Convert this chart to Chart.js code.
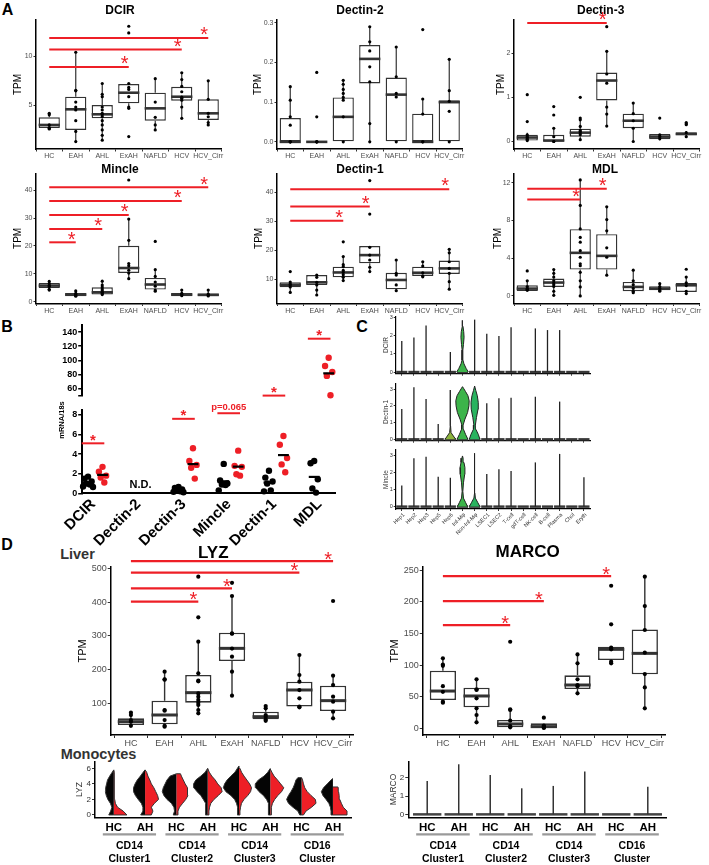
<!DOCTYPE html>
<html><head><meta charset="utf-8"><title>Figure</title>
<script src="https://cdn.jsdelivr.net/npm/chart.js@4.4.1/dist/chart.umd.min.js"></script>
<style>
html,body{margin:0;padding:0;background:#fff;}
#root{position:relative;width:709px;height:865px;overflow:hidden;background:#fff;font-family:"Liberation Sans",Arial,sans-serif;}
#root canvas{position:absolute;}
.lab{position:absolute;transform:translate(-50%,-50%);font-weight:bold;white-space:nowrap;line-height:1;color:#000;}
</style></head><body>
<div id="root">
<div class="lab" style="left:7.5px;top:9.5px;font-size:16px">A</div>
<div class="lab" style="left:7px;top:327px;font-size:16px">B</div>
<div class="lab" style="left:362px;top:327px;font-size:16px">C</div>
<div class="lab" style="left:7px;top:545px;font-size:16px">D</div>
<div class="lab" style="left:77.5px;top:554px;font-size:14.5px;color:#333">Liver</div>
<div class="lab" style="left:98.5px;top:754px;font-size:14.5px;color:#333">Monocytes</div>
</div>
<script>
const FONT='"Liberation Sans", Arial, sans-serif';
const RED='#ee1f26';

// ---------------- Panel A / D data ----------------
const groups=['HC','EAH','AHL','ExAH','NAFLD','HCV','HCV_Cirr'];
// box stats: [lower whisker, Q1, median, Q3, upper whisker]
const dcirBox=[[2.55,2.65,2.96,3.74,4.15],[1.26,2.45,4.56,5.85,10.44],[1.4,3.64,4.05,5.0,7.2],[4.66,5.17,6.26,7.14,7.2],[2.45,3.4,4.66,6.26,7.7],[3.64,5.44,5.85,6.87,8.3],[2.96,3.47,4.15,5.58,7.48]];
const dcirPts=[[4.15,4.0,2.96,2.7,2.6,2.55],[10.4,6.5,6.45,5.3,4.8,4.5,3.4,2.3,1.26],[7.2,6.1,5.85,4.8,4.5,4.15,4.0,3.8,3.4,2.96,2.45,1.9,1.4],[13.06,12.38,7.2,6.8,6.6,5.85,4.8,4.66,1.77],[7.7,5.3,3.74,2.96,2.45],[8.3,7.6,6.9,6.36,5.8,5.7,5.5,4.8,3.64],[7.48,5.58,4.15,3.8,3.2,2.96]];
const dcirSig=[[4,8.9],[6,10.68],[7,11.87]];

const dectin2Box=[[0,0,0,0.06,0.139],[0,0,0,0,0],[0,0,0.063,0.112,0.155],[0,0.147,0.209,0.244,0.29],[0,0,0.119,0.162,0.239],[0,0,0,0.071,0.108],[0,0,0.1,0.105,0.208]];
const dectin2Pts=[[0.139,0.105,0.063,0.042,0,0,0],[0.175,0.063,0,0,0,0],[0.155,0.145,0.132,0.122,0.112,0.105,0.063,0],[0.29,0.252,0.229,0.189,0.151,0.046,0],[0.239,0.164,0.122,0.113,0],[0.283,0.108,0.07,0,0],[0.208,0.129,0.102,0.077,0]];
const dectin2Sig=[];

const dectin3Box=[[0.02,0.02,0.09,0.15,0.2],[0,0,0.02,0.15,0.3],[0.04,0.11,0.2,0.29,0.53],[0.35,0.93,1.38,1.56,2.04],[0,0.3,0.47,0.63,0.87],[0.03,0.05,0.11,0.17,0.17],[0.09,0.14,0.17,0.21,0.24]];
const dectin3Pts=[[1.06,0.45,0.15,0.11,0.08,0.05,0.02],[0.79,0.6,0.3,0.11,0,0],[1.0,0.53,0.49,0.34,0.26,0.23,0.19,0.15,0.04],[2.6,2.04,1.53,1.32,0.78,0.62,0.35],[0.87,0.63,0.47,0.3,0],[0.53,0.15,0.11,0.06],[0.43,0.4,0.38,0.2,0.11]];
const dectin3Sig=[[4,2.68]];

const mincleBox=[[4.16,4.99,5.82,6.77,7.6],[2.0,2.0,2.6,3.2,4.0],[2.4,2.6,3.4,5.2,7.6],[8.3,10.33,12.1,20.07,29.6],[3.8,4.4,6.2,8.55,11.5],[2.0,2.0,2.6,3.2,4.2],[2.0,2.0,2.5,3.0,4.2]];
const minclePts=[[7.3,6.5,5.8,5.5,4.5,4.2],[3.9,3.0,2.6,2.3,2.0],[7.4,6.0,5.3,4.6,4.0,3.4,3.0,2.6],[43.6,29.6,22,13.7,12.9,11.3,10.3,8.3],[21.6,11.5,9.1,7.1,5.6,4.2,3.8],[4.2,3.0,2.6,2.2],[4.2,2.8,2.4,2.1]];
const mincleSig=[[2,21.3],[3,26.1],[4,31.1],[6,36.1],[7,41]];

const dectin1Box=[[5.4,7.15,8.0,8.9,9.2],[4.5,8.0,8.9,11.4,11.4],[9.5,10.6,12.3,14.3,17.8],[12.6,15.45,18.3,21.45,21.45],[6.0,6.46,9.7,12.2,16.6],[10.8,11.1,12.2,14.3,16.0],[6.46,11.8,13.7,16.4,20.3]];
const dectin1Pts=[[12.6,9.0,8.3,8.0,7.3,5.4],[11.4,10.6,8.9,8.0,6.2,4.5],[22.9,17.8,15.0,14.3,13.0,12.3,11.5,10.6,9.5],[44.1,32.5,21,18.3,16.6,14.1,12.6],[16.6,12,11.4,8.0,6.0],[16,14.5,12.2,11.1,10.8],[20.3,19.1,16,13.7,12,9.1,6.5]];
const dectin1Sig=[[3,30.2],[4,35.1],[7,41.1]];

const mdlBox=[[0.53,0.53,0.78,1.13,1.6],[0.07,0.96,1.42,1.84,2.8],[0,2.8,4.57,7.08,12.3],[2.2,2.8,4.25,6.55,9.45],[0.35,0.5,0.96,1.49,2.73],[0.5,0.6,0.78,1.03,1.3],[0.25,0.42,1.13,1.38,2.0]];
const mdlPts=[[2.65,1.6,1.0,0.8,0.7,0.6],[2.8,2.4,2.0,1.6,1.4,1.2,1.0,0.5,0.07],[12.3,9.6,7.1,6.2,5.7,4.8,4.1,3.4,3.2,2.5,1.6,0.96,0],[9.45,8.1,6.9,5.1,4.1,2.2],[2.73,1.6,1.2,0.8,0.5,0.35],[1.3,1.0,0.8,0.6,0.5],[2.83,2.0,1.4,1.1,0.5,0.25]];
const mdlSig=[[3,10.23],[4,11.36]];

const lyzBox=[[30.6,35.6,45.4,55.3,72],[30.6,37.5,65.2,107.7,193.6],[70,101.7,131.4,183.7,282.5],[122.5,225,262.7,309,417.8],[45.4,52.3,60.2,75,91.9],[90,90,139.3,164,243],[55.3,77,107.7,152,181.7]];
const lyzPts=[[72,65,50,45,33],[193.6,171,170,80,78,50,33,30.6],[475,354.6,282.5,188.6,167,165,129,119.5,110,101.7,95,80,70],[457,417.8,307,306,262,238,193.6,122.5],[91.9,85,65,60,52,48],[243,183.7,164,139,114.6,90,88],[403,181.7,154,119.5,104.7,75,55.3]];
const lyzSig=[[3,401],[4,440.5],[6,487],[7,521.5]];

const marcoBox=[[41,45.2,59.3,91.4,110.8],[10,33.6,51.5,64.6,77.7],[1,2.1,7.4,13.7,30.5],[1,1,3.2,8.4,8.4],[55.7,62.5,68.8,84,117],[103,108.2,125,129.2,129.2],[32,85.6,118.7,156.5,239.5]];
const marcoPts=[[110.8,101,99,67,58,42.5,41],[77.7,62,61,47.8,32,21.5,10],[137,30.5,29.4,12.6,4.2,2.1],[17.3,5,3,2,1],[117,103,77.7,68.8,67,55.7],[225.3,164.4,127.6,125,105.6,103],[239.5,193.3,155.5,119.7,86,65,32]];
const marcoSig=[[3,163.3],[4,201],[6,240.5]];

// ---------------- Panel B data ----------------
const bGenes=['DCIR','Dectin-2','Dectin-3','Mincle','Dectin-1','MDL'];
const bHC=[[1.7,1.5,1.2,1.0,0.9,0.7,0.65],[],[0.65,0.55,0.4,0.3,0.2,0.15,0.1],[3.0,1.3,1.0,0.9,0.85,0.3],[2.3,1.6,1.2,1.0,0.3,0.2],[3.3,3.06,1.43,0.5,0.07]];
const bAH=[[2.7,2.2,1.8,1.6,1.1],[],[4.6,3.3,2.9,2.6,1.5],[4.35,2.8,2.7,1.95,1.8],[5.85,4.95,3.6,2.95,2.15],[103.6,92,83.5,77.9,50.6]];
const bSig=[[1,5.1,'*'],[3,7.6,'*'],[4,8.17,'p=0.065'],[5,50,'*'],[6,130.6,'*']];
const bLowTicks=[0,2,4,6,8];
const bHighTicks=[50,60,80,100,120,140];
const bHighLabels=['','60','80','100','120','140'];

// ---------------- Panel C data ----------------
const cCells=['Hep1','Hep2','Hep3','Hep5','Hep6','Inf-M\u03c6','Non-Inf-M\u03c6','LSEC1','LSEC2','T-cell','gdT-cell','NK-cell','B-cell','Plasma','Chol','Eryth'];
const cDcirMax=[1.7,1.88,2.54,0,1.1,2.82,2.86,2.09,1.96,2.45,0,2.38,2.29,2.29,0,0];
const cDectin1Max=[1.81,3.1,2.4,0.91,2.94,3.14,3.18,2.15,2.45,2.48,0,2.54,0,2.25,0,0];
const cMincleMax=[1.24,2.84,2.94,1.76,1.7,2.98,3.14,1.92,2.2,2.1,0,2.6,0,3.1,0,1.73];
// violin profiles [expression, half-width]
const cDcirInf=[[0,0.48],[0.2,0.3],[0.45,0.12],[0.65,0.04],[1.2,0.03],[1.5,0.08],[1.9,0.13],[2.2,0.1],[2.5,0.04],[2.82,0]];
const cDectin1Hep6=[[0,0.44],[0.2,0.25],[0.4,0.06],[0.8,0.02],[2.94,0]];
const cDectin1Inf=[[0,0.45],[0.3,0.25],[0.6,0.08],[0.85,0.05],[1.2,0.2],[1.6,0.42],[2.0,0.53],[2.3,0.55],[2.6,0.45],[2.85,0.25],[3.05,0.08],[3.14,0]];
const cDectin1Non=[[0,0.44],[0.3,0.3],[0.6,0.1],[0.85,0.06],[1.3,0.15],[1.8,0.28],[2.2,0.3],[2.6,0.22],[2.9,0.1],[3.18,0]];
const cMincleInf=[[0,0.42],[0.25,0.25],[0.5,0.08],[0.9,0.03],[1.4,0.08],[1.9,0.18],[2.3,0.2],[2.6,0.12],[2.85,0.05],[2.98,0]];
const cMincleNon=[[0,0.44],[0.25,0.25],[0.5,0.06],[0.8,0.02],[3.14,0]];

// ---------------- Monocyte data ----------------
const monoGroups=['HC','AH','HC','AH','HC','AH','HC','AH'];
const monoClusters=[['CD14','Cluster1'],['CD14','Cluster2'],['CD14','Cluster3'],['CD16','Cluster']];
const lyzLevels=[0,0.5,1,1.5,2,2.5,3,3.5,4,4.5,5,5.5,6];
const lyzTopBlack=[5.8,5.8,5.3,6.0,6.3,6.0,4.8,4.7];
const lyzTopRed=[5.8,5.8,5.3,6.0,6.3,5.9,4.8,3.6];
const lyzTopWBlack=[0,0,0,0,0,0,0.12,0];
const lyzTopWRed=[0,0,0.13,0,0,0,0,0.16];
const lyzBlackW=[
 [.16,.10,.06,.11,.19,.24,.27,.26,.23,.2,.13,.05],
 [.14,.07,.07,.12,.22,.31,.37,.37,.32,.25,.15,.06],
 [.1,.06,.08,.16,.3,.4,.45,.42,.36,.3,.2],
 [.07,.06,.06,.08,.14,.22,.34,.44,.45,.38,.22,.08],
 [.05,.04,.05,.08,.14,.26,.42,.5,.46,.38,.26,.13,.05],
 [.06,.05,.06,.07,.12,.22,.36,.46,.48,.38,.2,.08],
 [.06,.12,.28,.42,.48,.42,.34,.27,.22,.18],
 [.06,.06,.08,.13,.22,.32,.37,.3,.18,.06]];
const lyzRedW=[
 [.42,.3,.12,.05,.03,.02,.02,.02,.02,.02,.01,.01],
 [.2,.25,.2,.3,.43,.4,.34,.28,.2,.15,.09,.05],
 [.04,.05,.1,.2,.3,.37,.37,.34,.28,.22,.16],
 [.04,.04,.06,.1,.2,.34,.46,.43,.32,.24,.13,.05],
 [.03,.03,.05,.08,.16,.28,.37,.4,.34,.25,.16,.08,.03],
 [.03,.03,.04,.07,.14,.24,.36,.43,.33,.23,.12,.05],
 [.06,.14,.32,.46,.44,.3,.18,.1,.06,.03],
 [.45,.45,.33,.27,.22,.2,.18,.17]];
const marcoMonoMax=[1.82,2.73,2.15,1.42,1.55,2.33,0,1.51];

// ---------------- helpers ----------------
const root=document.getElementById('root');
let pluginId=0;
function inkText(c,s,x,y,font,color,align){
  c.save();c.font=font;c.fillStyle=color;c.textAlign=align||'center';c.textBaseline='alphabetic';
  const m=c.measureText(s);
  c.fillText(s,x,y+(m.actualBoundingBoxAscent-m.actualBoundingBoxDescent)/2);c.restore();
}
function rotText(c,s,x,y,font,color,ang,align,base){
  c.save();c.translate(x,y);c.rotate(ang);c.font=font;c.fillStyle=color;
  c.textAlign=align||'center';c.textBaseline=base||'middle';c.fillText(s,0,0);c.restore();
}
function axis(o,isX,rect,area){
  const fixed=isX?rect[3]-area.b:area.l-rect[0];
  return {
    type:'linear',min:o.min,max:o.max,offset:false,display:o.display!==false,
    afterFit:s=>{ if(isX) s.height=fixed; else s.width=fixed; },
    afterBuildTicks:s=>{ s.ticks=(o.ticks||[]).map(v=>({value:v})); },
    ticks:{display:!!o.labels,autoSkip:false,maxRotation:0,minRotation:0,padding:o.pad!=null?o.pad:1,
      font:{family:FONT,size:o.fs||7,weight:o.fw||'normal'},color:o.fc||'#4d4d4d',
      callback:(v,i)=>o.labels?(o.labels[i]!=null?o.labels[i]:''):''},
    grid:{display:true,drawOnChartArea:false,drawTicks:(o.tl||0)>0,tickLength:o.tl||0,color:o.tc||'#333',lineWidth:o.tw||1},
    border:{display:o.border!==false,color:o.bc||'#000',width:o.bw||1.5}
  };
}
function makeChart(rect,area,xo,yo,datasets,plugin){
  const cv=document.createElement('canvas');
  const W=rect[2]-rect[0],H=rect[3]-rect[1];
  cv.width=W;cv.height=H;cv.style.left=rect[0]+'px';cv.style.top=rect[1]+'px';
  cv.style.width=W+'px';cv.style.height=H+'px';
  root.appendChild(cv);
  const xd=xo.display!==false;
  return new Chart(cv.getContext('2d'),{
    type:'scatter',data:{datasets},
    options:{responsive:false,maintainAspectRatio:false,animation:false,devicePixelRatio:1,events:[],
      layout:{padding:{top:area.t-rect[1],right:rect[2]-area.r,bottom:xd?0:rect[3]-area.b,left:0}},
      plugins:{legend:{display:false},tooltip:{enabled:false},title:{display:false}},
      scales:{x:axis(xo,true,rect,area),y:axis(yo,false,rect,area)}},
    plugins:plugin?[plugin]:[]
  });
}

// ---------------- box plot panels ----------------
const A_ST={bw:1.4,boxW:0.8,pr:1.6,mw:2.6,ww:1.2,sw:2,sdx:-4,sdy:-6.7,star:'20px '+FONT,title:'bold 12px '+FONT,tpm:'10px '+FONT,xfs:7,yfs:7,tl:2.5};
const D_ST={bw:1.6,boxW:0.78,pr:2.1,mw:3,ww:1.4,sw:2.2,sdx:-5,sdy:-5.5,star:'20px '+FONT,title:'bold 17px '+FONT,tpm:'11px '+FONT,xfs:9,yfs:9,tl:3};
function boxChart(rect,area,st,xr,yr,yTicks,yLabels,box,pts,sig,title,titlePos,tpmX){
  const ds=[
    {type:'bar',data:box.map((b,i)=>({x:i+1,y:[b[1],b[3]]})),backgroundColor:'#fff',borderColor:'#333',borderWidth:st.bw,borderSkipped:false,barPercentage:st.boxW,categoryPercentage:1,order:3},
    {type:'scatter',data:pts.flatMap((a,i)=>a.map(v=>({x:i+1,y:v}))),pointRadius:st.pr,pointBackgroundColor:'#000',pointBorderWidth:0,clip:false,order:2}
  ];
  sig.forEach(s=>ds.push({type:'line',data:[{x:1,y:s[1]},{x:s[0],y:s[1]}],borderColor:RED,borderWidth:st.sw,pointRadius:0,fill:false,clip:false,order:1}));
  const plugin={id:'bx'+(pluginId++),
    beforeDatasetsDraw(ch){const x=ch.scales.x,y=ch.scales.y,c=ch.ctx;c.save();c.strokeStyle='#333';c.lineWidth=st.ww;
      box.forEach((b,i)=>{const px=x.getPixelForValue(i+1);c.beginPath();
        c.moveTo(px,y.getPixelForValue(b[4]));c.lineTo(px,y.getPixelForValue(b[3]));
        c.moveTo(px,y.getPixelForValue(b[1]));c.lineTo(px,y.getPixelForValue(b[0]));c.stroke();});c.restore();},
    afterDatasetDraw(ch,args){if(args.index!==0)return;const x=ch.scales.x,y=ch.scales.y,c=ch.ctx,meta=ch.getDatasetMeta(0);
      c.save();c.strokeStyle='#333';c.lineWidth=st.mw;
      box.forEach((b,i)=>{const px=x.getPixelForValue(i+1),w=meta.data[i].width/2,py=y.getPixelForValue(b[2]);
        c.beginPath();c.moveTo(px-w,py);c.lineTo(px+w,py);c.stroke();});c.restore();},
    afterDraw(ch){const x=ch.scales.x,y=ch.scales.y,c=ch.ctx,ca=ch.chartArea;
      inkText(c,title,titlePos[0]-rect[0],titlePos[1]-rect[1],st.title,'#000');
      rotText(c,'TPM',tpmX-rect[0],(ca.top+ca.bottom)/2,st.tpm,'#000',-Math.PI/2);
      sig.forEach(s=>inkText(c,'*',x.getPixelForValue(s[0])+st.sdx,y.getPixelForValue(s[1])+st.sdy,st.star,RED));}
  };
  return makeChart(rect,area,
    {min:xr[0],max:xr[1],ticks:[1,2,3,4,5,6,7],labels:groups,fs:st.xfs,tl:st.tl,pad:0.5},
    {min:yr[0],max:yr[1],ticks:yTicks,labels:yLabels,fs:st.yfs,tl:st.tl,pad:1},ds,plugin);
}
const AX=[0.5,7.5];
boxChart([0,0,236,162],{l:36,t:20,r:221.5,b:149},A_ST,AX,[0.5,13.7],[5,10],['5','10'],dcirBox,dcirPts,dcirSig,'DCIR',[120,9],18.3);
boxChart([236,0,472,162],{l:277,t:20,r:462.5,b:149},A_ST,AX,[-0.018,0.307],[0,0.1,0.2,0.3],['0.0','0.1','0.2','0.3'],dectin2Box,dectin2Pts,dectin2Sig,'Dectin-2',[360,9],258);
boxChart([472,0,709,162],{l:514,t:20,r:699.5,b:149},A_ST,AX,[-0.17,2.75],[0,1,2],['0','1','2'],dectin3Box,dectin3Pts,dectin3Sig,'Dectin-3',[600.7,9],501.7);
boxChart([0,158,236,316],{l:36,t:173.3,r:221.5,b:303.5},A_ST,AX,[-0.6,46],[0,10,20,30,40],['0','10','20','30','40'],mincleBox,minclePts,mincleSig,'Mincle',[120,168.3],18.3);
boxChart([236,158,472,316],{l:277,t:173.3,r:462.5,b:303.5},A_ST,AX,[1.56,46.6],[10,20,30,40],['10','20','30','40'],dectin1Box,dectin1Pts,dectin1Sig,'Dectin-1',[360,168.3],259);
boxChart([472,158,709,316],{l:514,t:173.3,r:699.5,b:303.5},A_ST,AX,[-0.8,13],[0,4,8,12],['0','4','8','12'],mdlBox,mdlPts,mdlSig,'MDL',[605,168.3],498.3);
const DX=[0.4,7.6];
boxChart([55,530,372,752],{l:110.7,t:566.7,r:353.3,b:735},D_ST,DX,[5.9,504.7],[100,200,300,400,500],['100','200','300','400','500'],lyzBox,lyzPts,lyzSig,'LYZ',[213.3,551.7],83.3);
boxChart([372,530,709,752],{l:422.7,t:566.7,r:665,b:735},D_ST,DX,[-10,255.3],[0,50,100,150,200,250],['0','50','100','150','200','250'],marcoBox,marcoPts,marcoSig,'MARCO',[527.7,550.7],395);

// ---------------- Panel B ----------------
function bDatasets(lo,hi){
  const ds=[],jit=[0,-0.08,0.08,-0.04,0.04,-0.11,0.11],hc=[],ah=[];
  bHC.forEach((a,g)=>a.forEach((v,k)=>{if(v>=lo&&v<=hi)hc.push({x:g+1-0.16+jit[k%7],y:v});}));
  bAH.forEach((a,g)=>a.forEach((v,k)=>{if(v>=lo&&v<=hi)ah.push({x:g+1+0.16+jit[k%7],y:v});}));
  ds.push({type:'scatter',data:hc,pointRadius:3.2,pointBackgroundColor:'#000',pointBorderWidth:0,clip:false,order:3});
  ds.push({type:'scatter',data:ah,pointRadius:3.2,pointBackgroundColor:RED,pointBorderWidth:0,clip:false,order:3});
  [[bHC,-0.16],[bAH,0.16]].forEach(([arr,off])=>arr.forEach((a,g)=>{if(!a.length)return;
    const m=a.reduce((s,v)=>s+v,0)/a.length;
    if(m>=lo&&m<=hi)ds.push({type:'line',data:[{x:g+1+off-0.12,y:m},{x:g+1+off+0.12,y:m}],borderColor:'#000',borderWidth:2.2,pointRadius:0,fill:false,clip:false,order:2});}));
  bSig.forEach(s=>{if(s[1]>=lo&&s[1]<=hi)ds.push({type:'line',data:[{x:s[0]-0.3,y:s[1]},{x:s[0]+0.2,y:s[1]}],borderColor:RED,borderWidth:2,pointRadius:0,fill:false,clip:false,order:1});});
  return ds;
}
function bSigText(ch,lo,hi){const x=ch.scales.x,y=ch.scales.y,c=ch.ctx;
  bSig.forEach(s=>{if(s[1]<lo||s[1]>hi)return;const px=x.getPixelForValue(s[0]-0.05),py=y.getPixelForValue(s[1]);
    if(s[2]==='*')inkText(c,'*',px,py-5.7,'bold 15px '+FONT,RED);else inkText(c,s[2],px,py-5,'bold 9.5px '+FONT,RED);});}
const BX={min:0.7,max:6.3,ticks:[1,2,3,4,5,6],bw:2};
makeChart([40,315,345,410],{l:81.7,t:325,r:335,b:402.8},Object.assign({display:false},BX),
  {min:50,max:150,ticks:bHighTicks,labels:bHighLabels,fs:9,fw:'bold',fc:'#000',tl:3.5,tc:'#000',tw:1.5,bw:2,pad:1},
  bDatasets(50,200),{id:'bUp',afterDraw(ch){bSigText(ch,50,200);}});
makeChart([30,400,345,560],{l:81.7,t:410,r:335,b:493.3},BX,
  {min:0,max:8.5,ticks:bLowTicks,labels:bLowTicks.map(String),fs:9,fw:'bold',fc:'#000',tl:3.5,tc:'#000',tw:1.5,bw:2,pad:1},
  bDatasets(0,8.5),{id:'bLow',afterDraw(ch){const x=ch.scales.x,c=ch.ctx,ca=ch.chartArea;
    bSigText(ch,0,8.5);
    inkText(c,'N.D.',x.getPixelForValue(2),ca.bottom-9.3,'bold 11px '+FONT,'#000');
    bGenes.forEach((g,i)=>rotText(c,g,x.getPixelForValue(i+1)-2,ca.bottom+8.5,'bold 15px '+FONT,'#000',-Math.PI/4,'right','middle'));
    rotText(c,'mRNA/18s',ca.left-20,ca.top+10,'bold 7.5px '+FONT,'#000',-Math.PI/2);}});

// ---------------- Panel C ----------------
const INF='#3cb44a',NON='#29b35f',OLIVE='#8cb43c';
function stripChart(rect,area,yr,maxArr,shapes,ylab,showX){
  const ds=[];
  cCells.forEach((n,i)=>ds.push({type:'line',data:[{x:i+1-0.46,y:0},{x:i+1+0.46,y:0}],borderColor:'#383838',borderWidth:2.5,pointRadius:0,fill:false,clip:false,order:3}));
  maxArr.forEach((m,i)=>{if(m>0&&!shapes[i])ds.push({type:'line',data:[{x:i+1,y:0},{x:i+1,y:m}],borderColor:'#222',borderWidth:1.3,pointRadius:0,fill:false,clip:false,order:2});});
  Object.keys(shapes).forEach(k=>{const i=+k+1,p=shapes[k][0];
    const poly=p.map(q=>({x:i+q[1],y:q[0]})).concat(p.slice().reverse().map(q=>({x:i-q[1],y:q[0]})));
    ds.push({type:'line',data:poly,fill:'shape',backgroundColor:shapes[k][1],borderColor:'#222',borderWidth:1,pointRadius:0,clip:false,order:1});});
  const ticks=cCells.map((n,i)=>i+1);
  return makeChart(rect,area,{min:0.5,max:16.5,ticks:ticks,tl:2,bw:1.2,tc:'#333'},
    {min:yr[0],max:yr[1],ticks:[0,1,2,3],labels:['0','1','2','3'],fs:5.5,fc:'#333',tl:2,bw:1.2,pad:1},ds,
    {id:'strip'+(pluginId++),afterDraw(ch){const x=ch.scales.x,c=ch.ctx,ca=ch.chartArea;
      rotText(c,ylab,ca.left-9,(ca.top+ca.bottom)/2,'6.5px '+FONT,'#333',-Math.PI/2);
      if(showX)cCells.forEach((n,i)=>rotText(c,n,x.getPixelForValue(i+1)+2,ca.bottom+5,'5.5px '+FONT,'#333',-Math.PI/4,'right','middle'));}});
}
stripChart([365,300,605,378],{l:395.7,t:316.5,r:590,b:375},[-0.09,3.03],cDcirMax,{5:[cDcirInf,INF]},'DCIR',false);
stripChart([365,368,605,445],{l:395.7,t:383.3,r:590,b:440.7},[-0.08,3.34],cDectin1Max,{4:[cDectin1Hep6,OLIVE],5:[cDectin1Inf,INF],6:[cDectin1Non,NON]},'Dectin-1',false);
stripChart([365,436,605,535],{l:395.7,t:450,r:590,b:509},[-0.14,3.33],cMincleMax,{5:[cMincleInf,INF],6:[cMincleNon,NON]},'Mincle',true);

// ---------------- Monocyte violins ----------------
function monoPlugin(ylab){return {id:'mono'+(pluginId++),afterDraw(ch){const x=ch.scales.x,c=ch.ctx,ca=ch.chartArea;
  monoGroups.forEach((g,i)=>inkText(c,g,x.getPixelForValue(i+1),ca.bottom+10,'bold 11.5px '+FONT,'#000'));
  monoClusters.forEach((cl,g)=>{const a=x.getPixelForValue(2*g+1-0.35),b=x.getPixelForValue(2*g+2+0.35),m=(x.getPixelForValue(2*g+1)+x.getPixelForValue(2*g+2))/2;
    c.save();c.strokeStyle='#9a9a9a';c.lineWidth=2.2;c.beginPath();c.moveTo(a,ca.bottom+17);c.lineTo(b,ca.bottom+17);c.stroke();c.restore();
    inkText(c,cl[0],m,ca.bottom+27.7,'bold 10.5px '+FONT,'#000');inkText(c,cl[1],m,ca.bottom+40.4,'bold 10.5px '+FONT,'#000');});
  rotText(c,ylab,ca.left-15,(ca.top+ca.bottom)/2,'8.5px '+FONT,'#333',-Math.PI/2);}};}
const lyzDs=[];
for(let i=0;i<8;i++){
  [[lyzBlackW,lyzTopBlack,lyzTopWBlack,-1,'#050505'],[lyzRedW,lyzTopRed,lyzTopWRed,1,RED]].forEach(([W,T,TW,side,col])=>{
    const cx=i+1,poly=[{x:cx,y:0}];
    W[i].forEach((w,k)=>poly.push({x:cx+side*w,y:lyzLevels[k]}));
    poly.push({x:cx+side*TW[i],y:T[i]});poly.push({x:cx,y:T[i]});
    lyzDs.push({type:'line',data:poly,fill:'shape',backgroundColor:col,borderColor:'#333',borderWidth:1,pointRadius:0,clip:false});
  });
}
makeChart([55,752,372,865],{l:95,t:761.7,r:351.7,b:817.3},{min:0.4,max:8.6,ticks:[1,2,3,4,5,6,7,8],bw:1.5},
  {min:-0.3,max:6.85,ticks:[0,2,4,6],labels:['0','2','4','6'],fs:8,fc:'#333',tl:3,bw:1.5,pad:1},lyzDs,monoPlugin('LYZ'));
const marcoDs=[];
marcoMonoMax.forEach((m,i)=>{
  marcoDs.push({type:'line',data:[{x:i+1-0.45,y:0},{x:i+1+0.45,y:0}],borderColor:'#444',borderWidth:2.5,pointRadius:0,fill:false,clip:false,order:2});
  if(m>0)marcoDs.push({type:'line',data:[{x:i+1,y:0},{x:i+1,y:m}],borderColor:'#333',borderWidth:1.5,pointRadius:0,fill:false,clip:false,order:1});
});
makeChart([372,752,709,865],{l:408.3,t:761.7,r:666.7,b:817.3},{min:0.4,max:8.6,ticks:[1,2,3,4,5,6,7,8],bw:1.5},
  {min:-0.16,max:2.87,ticks:[0,1,2],labels:['0','1','2'],fs:8,fc:'#333',tl:3,bw:1.5,pad:1},marcoDs,monoPlugin('MARCO'));
</script></body></html>
